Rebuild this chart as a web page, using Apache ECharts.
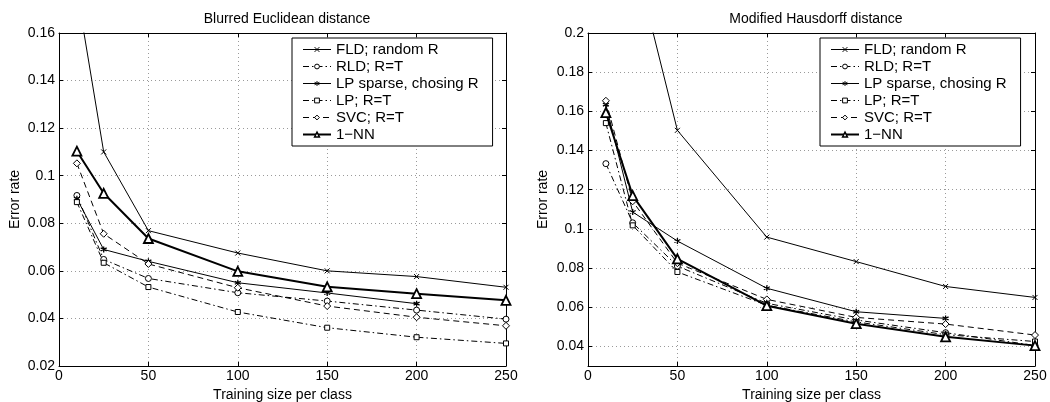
<!DOCTYPE html>
<html>
<head>
<meta charset="utf-8">
<script src="https://cdn.jsdelivr.net/npm/echarts@6/dist/echarts.min.js"></script>
<style>html,body{margin:0;padding:0;background:#fff}#c{width:1050px;height:402px}</style>
</head>
<body>
<div id="c"></div>
<script>
// ---- data ----
const sizes = [10, 25, 50, 100, 150, 200, 250];
const seriesNames = ['FLD; random R', 'RLD; R=T', 'LP sparse, chosing R', 'LP; R=T', 'SVC; R=T', '1\u2212NN'];
const leftTitle = 'Blurred Euclidean distance';
const rightTitle = 'Modified Hausdorff distance';
const xTicks = [0, 50, 100, 150, 200, 250];
const leftYTicks = [0.02, 0.04, 0.06, 0.08, 0.1, 0.12, 0.14, 0.16];
const rightYTicks = [0.04, 0.06, 0.08, 0.1, 0.12, 0.14, 0.16, 0.18, 0.2];

// Blurred Euclidean distance
const leftFLD = [0.178, 0.110, 0.0769, 0.0675, 0.0600, 0.0576, 0.0531];
const leftRLD = [0.0917, 0.0648, 0.0568, 0.0508, 0.0473, 0.0435, 0.0397];
const leftLPS = [0.0903, 0.0690, 0.0640, 0.0550, 0.0507, 0.0462, null];
const leftLP  = [0.0889, 0.0634, 0.0532, 0.0427, 0.0361, 0.0321, 0.0295];
const leftSVC = [0.1052, 0.0756, 0.0629, 0.0529, 0.0452, 0.0405, 0.0369];
const leftNN  = [0.1103, 0.0926, 0.0736, 0.0598, 0.0533, 0.0504, 0.0476];

// Modified Hausdorff distance
const rightFLD = [0.32, 0.242, 0.1503, 0.0958, 0.0833, 0.0706, 0.0650];
const rightRLD = [0.1333, 0.1031, 0.0810, 0.0620, 0.0535, 0.0470, 0.0405];
const rightLPS = [0.1634, 0.1086, 0.0938, 0.0697, 0.0577, 0.0543, null];
const rightLP  = [0.1540, 0.1018, 0.0780, 0.0610, 0.0525, 0.0460, 0.0425];
const rightSVC = [0.1654, 0.1141, 0.0825, 0.0640, 0.0548, 0.0514, 0.0458];
const rightNN  = [0.1594, 0.1170, 0.0847, 0.0608, 0.0516, 0.0449, 0.0404];

// ---- styles ----
const FONT = '"Liberation Sans", Arial, Helvetica, sans-serif';
const SYM_X = 'path://M0,0L10,10M0,10L10,0';
const SYM_STAR = 'path://M5,0L5,10M0.67,2.5L9.33,7.5M0.67,7.5L9.33,2.5';
const styles = [
  {symbol: SYM_X, size: 5, dash: 'solid', width: 1, bw: 1},
  {symbol: 'circle', size: 6, dash: [6, 3, 1.5, 3], width: 1, bw: 1},
  {symbol: SYM_STAR, size: 6, dash: 'solid', width: 1, bw: 1.3},
  {symbol: 'rect', size: 5, dash: [6, 3, 1.5, 3], width: 1, bw: 1},
  {symbol: 'diamond', size: 7, dash: [6, 4], width: 1, bw: 1},
  {symbol: 'triangle', size: 9, dash: 'solid', width: 2, bw: 1.8}
];

function makeSeries(axisIdx, arrays) {
  return arrays.map((vals, i) => {
    const st = styles[i];
    const data = [];
    sizes.forEach((s, k) => { if (vals[k] !== null) data.push([s, vals[k]]); });
    return {
      type: 'line', name: seriesNames[i], data: data,
      xAxisIndex: axisIdx, yAxisIndex: axisIdx,
      color: '#000', symbol: st.symbol, symbolSize: st.size, showAllSymbol: true,
      clip: true, animation: false, z: 10 + i,
      lineStyle: {color: '#000', width: st.width, type: st.dash},
      itemStyle: {color: '#fff', borderColor: '#000', borderWidth: st.bw},
      emphasis: {disabled: true}
    };
  });
}

function xAxes(gridIndex) {
  const base = {
    type: 'value', gridIndex: gridIndex, min: 0, max: 250, interval: 50,
    axisLine: {show: true, onZero: false, lineStyle: {color: '#000', width: 1}},
    axisTick: {show: true, inside: true, length: 4, lineStyle: {color: '#000'}}
  };
  return [
    Object.assign({}, base, {
      position: 'bottom',
      name: 'Training size per class', nameLocation: 'middle', nameGap: 18,
      nameTextStyle: {fontFamily: FONT, fontSize: 14, color: '#000'},
      axisLabel: {fontFamily: FONT, fontSize: 14, color: '#000', margin: 3},
      splitLine: {show: true, lineStyle: {color: '#9a9a9a', type: [1, 3], width: 1}}
    }),
    Object.assign({}, base, {
      position: 'top', axisLabel: {show: false}, splitLine: {show: false}
    })
  ];
}

function yAxes(gridIndex, min, max, ticks, nameGap) {
  const base = {
    type: 'value', gridIndex: gridIndex, min: min, max: max,
    axisLine: {show: true, onZero: false, lineStyle: {color: '#000', width: 1}},
    axisTick: {show: true, inside: true, length: 4, lineStyle: {color: '#000'}, customValues: ticks}
  };
  return [
    Object.assign({}, base, {
      position: 'left',
      name: 'Error rate', nameLocation: 'middle', nameGap: nameGap, nameRotate: 90,
      nameTextStyle: {fontFamily: FONT, fontSize: 14, color: '#000'},
      axisLabel: {fontFamily: FONT, fontSize: 14, color: '#000', margin: 4, customValues: ticks},
      splitLine: {show: true, lineStyle: {color: '#9a9a9a', type: [1, 3], width: 1}}
    }),
    Object.assign({}, base, {
      position: 'right', axisLabel: {show: false, customValues: ticks}, splitLine: {show: false}
    })
  ];
}

function legend(left) {
  return {
    orient: 'vertical', left: left, top: 38,
    data: seriesNames.map((n, i) => ({
      name: n,
      lineStyle: {width: styles[i].width},
      itemStyle: {borderWidth: styles[i].bw > 1.5 ? 1.5 : 1}
    })),
    itemWidth: 28, itemHeight: 6, itemGap: 2,
    padding: [4, 14, 4, 10],
    borderColor: '#000', borderWidth: 1, backgroundColor: '#fff',
    textStyle: {fontFamily: FONT, fontSize: 15, color: '#000', lineHeight: 15},
    selectedMode: false, z: 50
  };
}

const xa = xAxes(0).concat(xAxes(1));
const ya = yAxes(0, 0.02, 0.16, leftYTicks, 37).concat(yAxes(1, 0.03, 0.2, rightYTicks, 38));
const seriesL = makeSeries(0, [leftFLD, leftRLD, leftLPS, leftLP, leftSVC, leftNN]);
const seriesR = makeSeries(2, [rightFLD, rightRLD, rightLPS, rightLP, rightSVC, rightNN]);

const option = {
  backgroundColor: '#fff',
  animation: false,
  title: [
    {text: leftTitle, left: 282, top: 7, textAlign: 'center',
     textStyle: {fontFamily: FONT, fontSize: 14, fontWeight: 'normal', color: '#000'}},
    {text: rightTitle, left: 811, top: 7, textAlign: 'center',
     textStyle: {fontFamily: FONT, fontSize: 14, fontWeight: 'normal', color: '#000'}}
  ],
  grid: [
    {left: 59, right: 544, top: 33, bottom: 36, containLabel: false, outerBoundsMode: 'none'},
    {left: 588, right: 15, top: 33, bottom: 36, containLabel: false, outerBoundsMode: 'none'}
  ],
  legend: [legend(292), legend(820)],
  xAxis: xa,
  yAxis: ya,
  series: seriesL.concat(seriesR)
};

const chart = echarts.init(document.getElementById('c'), null, {renderer: 'canvas'});
chart.setOption(option);
</script>
</body>
</html>
